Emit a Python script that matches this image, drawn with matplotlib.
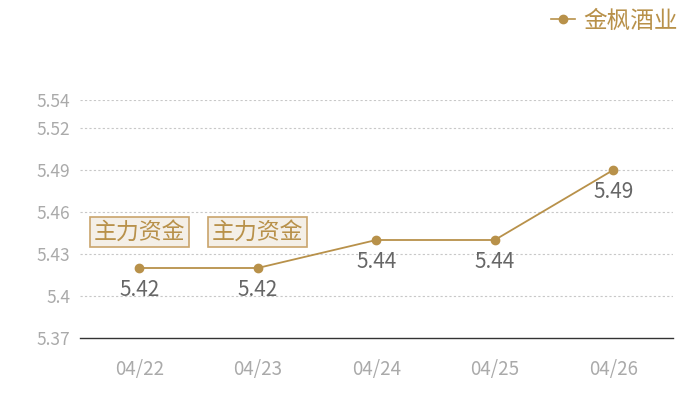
import matplotlib
matplotlib.use("Agg")
import matplotlib.pyplot as plt
from matplotlib.lines import Line2D

plt.rcParams['font.family'] = ['Noto Sans CJK SC', 'DejaVu Sans']

categories = ["04/22", "04/23", "04/24", "04/25", "04/26"]
values = [5.42, 5.42, 5.44, 5.44, 5.49]
yticks = [5.37, 5.4, 5.43, 5.46, 5.49, 5.52, 5.54]
ytick_labels = ["5.37", "5.4", "5.43", "5.46", "5.49", "5.52", "5.54"]
series_name = "金枫酒业"
flag_text = "主力资金"
flag_idx = [0, 1]

gold = "#b8914a"

fig = plt.figure(figsize=(7, 4), dpi=100)
ax = fig.add_axes([80/700, 62/400, 592.5/700, 238/400])
x = list(range(len(categories)))
ax.plot(x, values, color=gold, lw=1.3, marker='o', ms=6, zorder=3)
ax.set_xlim(-0.5, len(categories) - 0.5)
ax.set_ylim(5.37, 5.54)
ax.set_yticks(yticks)
ax.set_yticklabels(ytick_labels)
ax.set_xticks(x)
ax.set_xticklabels(categories)
for yv in yticks[1:]:
    ax.axhline(yv, color="#c8c8c8", lw=0.8, ls=(0, (2, 2)), zorder=1)
for s in ['top', 'right', 'left']:
    ax.spines[s].set_visible(False)
ax.spines['bottom'].set_color("#333333")
ax.spines['bottom'].set_linewidth(1)
ax.tick_params(axis='both', length=0, colors="#aaaaaa")
ax.tick_params(axis='x', pad=15, labelsize=13.5)
ax.tick_params(axis='y', pad=7, labelsize=12.5)

for xi, v in zip(x, values):
    ax.annotate(f"{v:.2f}", (xi, v), xytext=(0, -22), textcoords='offset pixels',
                ha='center', va='center', fontsize=15, color="#666666")

for i in flag_idx:
    ax.annotate(flag_text, (i, values[i]), xytext=(0, 36), textcoords='offset pixels',
                ha='center', va='center', fontsize=16.5, color=gold,
                bbox=dict(boxstyle='square,pad=0.17', fc="#f4efe7", ec="#c9a46c", lw=1.2))

handle = Line2D([], [], color=gold, lw=1.2, marker='o', ms=6)
fig.legend([handle], [series_name], loc='upper right', bbox_to_anchor=(0.971, 0.982),
           frameon=False, fontsize=17, labelcolor=gold, handlelength=1.0,
           handletextpad=0.35, borderaxespad=0.0, borderpad=0.1)

fig.savefig("out.png", dpi=100)
